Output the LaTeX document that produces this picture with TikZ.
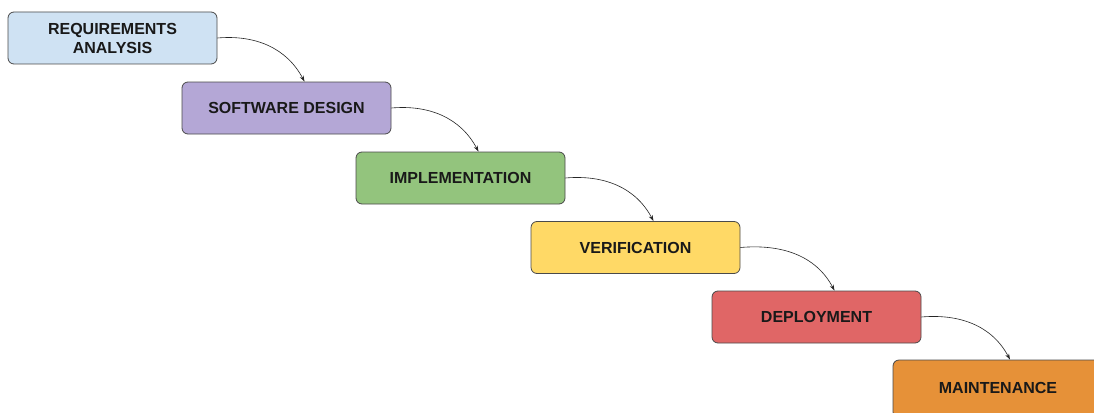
\documentclass[tikz,border=0pt]{standalone}
\usepackage{fontspec}
\setmainfont{Liberation Sans}
\usetikzlibrary{arrows.meta}
\definecolor{c1}{HTML}{CFE2F3}
\definecolor{c2}{HTML}{B4A7D6}
\definecolor{c3}{HTML}{93C47D}
\definecolor{c4}{HTML}{FFD966}
\definecolor{c5}{HTML}{E06666}
\definecolor{c6}{HTML}{E69138}
\definecolor{edge}{HTML}{4A4A4A}
\tikzset{
  phase/.style={draw=edge, line width=0.8pt, rounded corners=6pt, minimum width=209pt, minimum height=52pt, inner sep=0pt, align=center, font=\fontsize{16}{19}\selectfont\bfseries, text=black!90},
  flow/.style={draw=black!85, line width=0.6pt, -{Stealth[length=6pt,width=4pt]}, out=5, in=118, looseness=1.0}
}
\begin{document}
\begin{tikzpicture}[x=1pt,y=-1pt]
\useasboundingbox[fill=white] (0,0) rectangle (1094,412);
\clip (0,0) rectangle (1094,412);
\node[phase, fill=c1] (req) at (112.5,38) {REQUIREMENTS\\ANALYSIS};
\node[phase, fill=c2] (des) at (286.5,108) {SOFTWARE DESIGN};
\node[phase, fill=c3] (imp) at (460.5,178) {IMPLEMENTATION};
\node[phase, fill=c4] (ver) at (635.5,247.5) {VERIFICATION};
\node[phase, fill=c5] (dep) at (816.5,317) {DEPLOYMENT};
\node[phase, fill=c6, minimum width=210pt, minimum height=58pt] (mai) at (998,389) {\raisebox{3pt}{MAINTENANCE}};
\draw[flow] (req.east) to ([xshift=18pt]des.north);
\draw[flow] (des.east) to ([xshift=18pt]imp.north);
\draw[flow] (imp.east) to ([xshift=18pt]ver.north);
\draw[flow] (ver.east) to ([xshift=18pt]dep.north);
\draw[flow] (dep.east) to ([xshift=12pt]mai.north);
\end{tikzpicture}
\end{document}
